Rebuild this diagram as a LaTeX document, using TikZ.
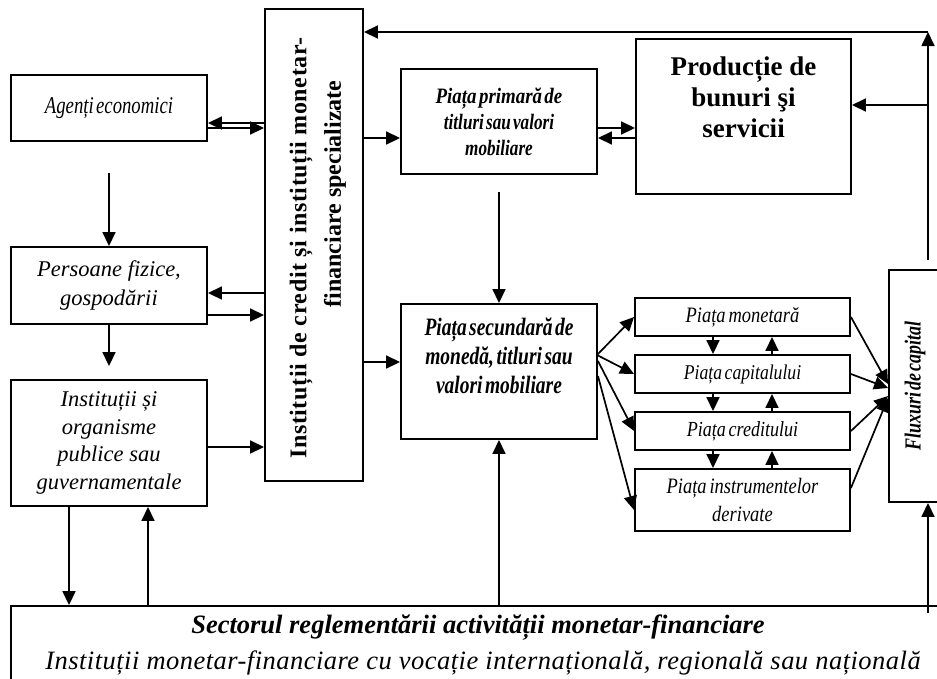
\documentclass[tikz,border=0pt]{standalone}
\usepackage{fontspec}
\setmainfont{Liberation Serif}
\newfontfamily\narrowfont[FakeStretch=0.78,WordSpace=0.5]{Liberation Serif}
\newfontfamily\slimfont[FakeStretch=0.84,WordSpace=0.6]{Liberation Serif}
\usetikzlibrary{positioning,arrows.meta}

\begin{document}
\begin{tikzpicture}[x=1pt, y=-1pt,
    box/.style={draw, line width=1.9pt, inner sep=2pt, align=center},
    arr/.style={line width=1.7pt, -{Triangle[length=14pt, width=13pt]}}]
\useasboundingbox (0,0) rectangle (937,678);
\clip (0,0) rectangle (937,678);

% Left column
\node[box, minimum width=196pt, minimum height=66pt, font=\narrowfont\itshape\fontsize{24}{28}\selectfont] (agenti) at (109,108) {Agenți economici};
\node[box, minimum width=196pt, minimum height=77pt, font=\itshape\fontsize{22.5}{29}\selectfont] (persoane) at (109,285.5) {Persoane fizice,\\gospodării};
\node[box, minimum width=196pt, minimum height=126pt, font=\itshape\fontsize{22.5}{27.5}\selectfont] (instpub) at (109,443) {Instituții și\\organisme\\publice sau\\guvernamentale};

% Central column
\node[box, rotate=90, minimum width=472pt, minimum height=98pt] (credit) at (314,245) {};
\node[rotate=90, font=\bfseries\fontsize{24}{28}\selectfont] (credittop) at (301,248) {\addfontfeature{LetterSpace=2.5}Instituții de credit și instituții monetar-};
\node[rotate=90, font=\bfseries\fontsize{24}{28}\selectfont] (creditbottom) at (335,194) {financiare specializate};

% Markets
\node[box, minimum width=196pt, minimum height=105pt, font=\narrowfont\bfseries\itshape\fontsize{22}{26}\selectfont] (primara) at (499,121.5) {\addfontfeature{FakeStretch=0.86}Piața primară de\\titluri sau valori\\mobiliare};
\node[box, minimum width=196pt, minimum height=135pt] (secundara) at (499,371.5) {};
\node[font=\narrowfont\bfseries\itshape\fontsize{25}{29}\selectfont, align=center] (secundaratext) at (499,356) {Piața secundară de\\monedă, titluri sau\\valori mobiliare};
\node[box, minimum width=215pt, minimum height=155pt] (productie) at (743.5,116.5) {};
\node[font=\bfseries\fontsize{27}{31}\selectfont, align=center] (productietext) at (743.5,97) {Producție de\\bunuri şi\\servicii};

\node[box, minimum width=215pt, minimum height=38pt, font=\slimfont\itshape\fontsize{22}{26}\selectfont] (monetara) at (742.5,317) {Piața monetară};
\node[box, minimum width=215pt, minimum height=38pt, font=\slimfont\itshape\fontsize{21}{26}\selectfont] (capital) at (742.5,374) {Piața capitalului};
\node[box, minimum width=215pt, minimum height=38pt, font=\slimfont\itshape\fontsize{21.5}{26}\selectfont] (creditp) at (742.5,431) {Piața creditului};
\node[box, minimum width=215pt, minimum height=62pt, font=\slimfont\itshape\fontsize{22}{28}\selectfont] (derivate) at (742.5,500) {Piața instrumentelor\\derivate};

\node[box, rotate=90, minimum width=232pt, minimum height=52pt, font=\narrowfont\bfseries\itshape\fontsize{23}{26}\selectfont] (fluxuri) at (915,386) {Fluxuri de capital};

% Bottom sector
\node[box, minimum width=934pt, minimum height=78pt, font=\itshape\fontsize{26.5}{36}\selectfont] (sector) at (478,645) {{\bfseries Sectorul reglementării activității monetar-financiare}\\\hspace*{10pt}\addfontfeature{LetterSpace=1.8}Instituții monetar-financiare cu vocație internațională, regională sau națională};

\coordinate (corner) at (928,32);
\coordinate (fluxtop) at (928,260);
\coordinate (fluxbase) at (928,613);
\coordinate (fan) at (597,355);

% Edges, left side
\draw[arr] (credit.north |- 0,123) -- (agenti.east |- 0,123);
\draw[arr] (agenti.east |- 0,128) -- (credit.north |- 0,128);
\draw[arr] (credit.north |- 0,293) -- (persoane.east |- 0,293);
\draw[arr] (persoane.east |- 0,315) -- (credit.north |- 0,315);
\draw[arr] (instpub.east |- 0,447) -- (credit.north |- 0,447);
\draw[arr] ([yshift=-31pt]agenti.south) -- (persoane.north);
\draw[arr] (persoane.south) -- ([yshift=13pt]instpub.north);
\draw[arr] (instpub.south -| 69,0) -- (sector.north -| 69,0);
\draw[arr] (sector.north -| 148,0) -- (instpub.south -| 148,0);

% Edges, centre
\draw[arr] (credit.south |- 0,138) -- (primara.west |- 0,138);
\draw[arr] (credit.south |- 0,362) -- (secundara.west |- 0,362);
\draw[arr] (primara.east |- 0,128) -- (productie.west |- 0,128);
\draw[arr] (productie.west |- 0,138) -- (primara.east |- 0,138);
\draw[arr] ([yshift=-17pt]primara.south) -- (secundara.north);
\draw[arr] (sector.north -| secundara.south) -- (secundara.south);

% Edges, market fan
\draw[arr] (fan) -- (monetara.west);
\draw[arr] (fan) -- (capital.west);
\draw[arr] (secundara.east |- 0,361) -- (creditp.west);
\draw[arr] (secundara.east |- 0,376) -- ([yshift=-10pt]derivate.west);
\draw[arr] (monetara.south -| 713,0) -- (capital.north -| 713,0);
\draw[arr] (capital.north -| 772,0) -- (monetara.south -| 772,0);
\draw[arr] (capital.south -| 713,0) -- (creditp.north -| 713,0);
\draw[arr] (creditp.north -| 772,0) -- (capital.south -| 772,0);
\draw[arr] (creditp.south -| 713,0) -- (derivate.north -| 713,0);
\draw[arr] (derivate.north -| 772,0) -- (creditp.south -| 772,0);
\draw[arr] (monetara.east) -- (fluxuri.north |- 0,384);
\draw[arr] (capital.east) -- (fluxuri.north |- 0,388);
\draw[arr] (creditp.east) -- (fluxuri.north |- 0,396);
\draw[arr] ([yshift=12pt]derivate.east) -- (fluxuri.north |- 0,398);

% Edges, capital flows back
\draw[arr] (fluxbase) -- (fluxbase |- fluxuri.west);
\draw[arr] (fluxtop) -- (corner);
\draw[arr] (corner) -- (corner -| credit.south);
\draw[arr] (fluxtop |- 0,105) -- (productie.east |- 0,105);
\end{tikzpicture}
\end{document}
